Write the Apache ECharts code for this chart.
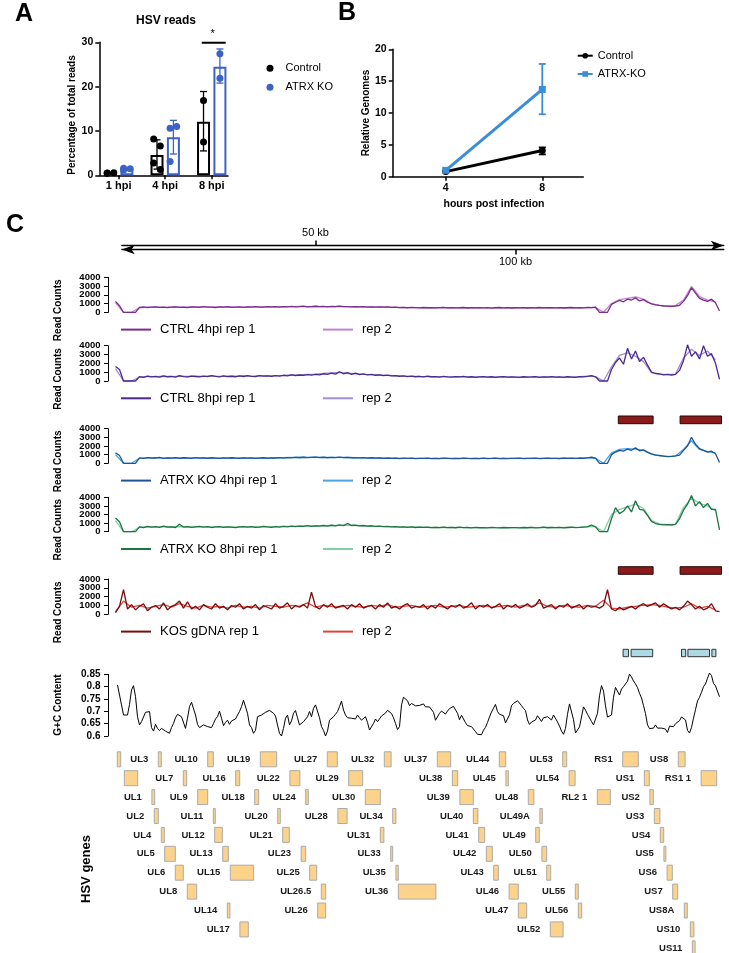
<!DOCTYPE html>
<html><head><meta charset="utf-8">
<script src="https://cdn.jsdelivr.net/npm/echarts@6/dist/echarts.min.js"></script>
<style>html,body{margin:0;padding:0;background:#fff}#c{width:729px;height:953px}</style>
</head><body><div id="c"></div>
<script>
// ---------------- Panel A: HSV reads ----------------
const hpiLabels = ['1 hpi', '4 hpi', '8 hpi'];
const hpiPos = [1, 2, 3];
const ctrlMean = [0.5, 4.6, 12.1];
const ctrlLo = [0.4, 1.4, 5.5];
const ctrlHi = [0.6, 8.0, 18.9];
const atrxMean = [1.4, 8.6, 24.5];
const atrxLo = [1.2, 4.8, 20.8];
const atrxHi = [1.6, 12.4, 28.5];
const ctrlPts = [[0.45, 0.6, 0.5], [8.2, 6.6, 2.8, 1.3], [16.9, 7.5]];
const atrxPts = [[1.2, 1.5, 1.6], [10.6, 11.0, 3.1], [27.4, 21.9]];

// ---------------- Panel B: relative genomes ----------------
const hoursB = [4, 8];
const ctrlGen = [0.8, 4.1];
const ctrlGenLo = [0.7, 3.5];
const ctrlGenHi = [0.9, 4.6];
const atrxGen = [1.0, 13.7];
const atrxGenLo = [0.9, 9.8];
const atrxGenHi = [1.1, 17.7];

// ---------------- Panel C: coverage (rep 1 every 1 kb, rep 2 every 2 kb) ----------------
const ctrl4Rep1 = [1250,750,0,0,0,0,560,610,540,590, 620,560,600,540,580,630,570,600,550,620, 590,560,640,580,600,550,610,590,640,570, 600,620,560,610,590,640,600,580,650,610, 640,600,660,620,680,630,650,700,620,660, 690,640,670,620,680,650,700,640,660,620, 650,610,640,600,630,590,620,580,610,560, 590,540,570,520,560,530,500,550,520,540, 500,530,560,510,540,500,520,550,490,530, 510,540,500,530,480,520,550,500,530,490, 520,500,540,490,530,510,550,500,520,540, 500,530,490,520,550,510,540,500,560,530, 580,0,0,0,900,1150,1350,1200,1500,1400, 1650,1300,1450,1150,950,850,780,720,700,680, 720,800,1250,1900,2800,2200,1600,1400,1250,1500, 1100,150];
const ctrl4Rep2 = [1100,0,0,520,580,600,570,610,590,560, 610,620,580,600,620,590,600,620,610,630, 620,640,660,680,650,670,660,650,670,640, 630,620,610,600,590,570,550,540,530,520, 540,520,530,510,520,530,510,500,530,510, 520,530,510,530,520,510,520,530,520,540, 560,0,1000,1450,1600,1750,1500,1000,800,740, 760,1400,2950,1800,1400,1200];
const ctrl8Rep1 = [1650,1300,0,0,0,0,500,420,560,470, 520,440,580,480,530,450,600,500,470,560, 510,460,550,490,600,520,470,580,500,540, 480,570,510,600,530,490,620,550,590,520, 610,560,650,580,700,620,680,640,720,660, 760,690,820,740,900,780,1050,820,950,760, 880,720,800,690,760,650,700,620,660,580, 600,540,580,500,550,480,520,460,540,480, 500,450,520,470,430,500,460,520,440,480, 420,470,500,440,480,410,460,500,430,470, 450,400,480,430,460,500,420,470,440,490, 430,460,410,480,450,420,500,460,520,620, 480,0,0,0,1300,2100,2600,1900,3700,2500, 3400,2200,2700,1800,1000,850,800,700,760,680, 750,1200,2300,4100,2800,3300,2500,4000,2800,3100, 2000,200];
const ctrl8Rep2 = [1400,0,0,450,520,480,540,500,560,510, 540,520,570,530,560,540,570,560,600,580, 620,640,680,700,740,780,860,920,980,880, 820,760,720,680,640,590,560,530,510,500, 490,500,470,480,470,460,470,450,460,450, 440,450,470,450,460,450,440,460,480,560, 500,0,1600,2900,3200,2800,2200,950,780,720, 780,2600,3600,2900,3400,2400];
const atrx4Rep1 = [1200,900,0,0,0,0,620,560,650,590, 610,680,570,630,600,660,580,640,610,570, 650,600,620,580,640,600,560,620,590,640, 600,570,630,590,620,560,600,640,580,620, 600,650,610,660,620,680,640,700,650,690, 720,660,700,640,690,650,710,660,680,640, 660,620,650,600,640,590,620,570,610,580, 600,550,590,560,600,540,580,560,590,550, 570,540,590,560,530,580,550,600,560,540, 570,550,590,530,560,600,550,580,540,570, 560,590,540,580,560,600,550,570,590,560, 580,550,600,560,590,570,610,580,620,700, 600,0,0,0,1000,1300,1500,1400,1650,1500, 1800,1450,1550,1300,1100,950,900,820,780,800, 850,950,1500,2000,3000,2200,1700,1500,1300,1400, 1100,100];
const atrx4Rep2 = [1000,0,0,580,620,640,600,620,610,630, 620,610,630,600,620,610,620,600,630,610, 640,660,680,700,690,700,690,680,690,670, 650,630,620,610,600,590,580,580,570,580, 570,580,560,580,570,580,570,560,580,570, 580,570,580,570,580,570,590,580,600,650, 580,0,1200,1600,1700,1650,1500,1050,880,800, 830,1600,2600,1600,1350,1200];
const atrx8Rep1 = [1600,1150,0,0,0,0,560,480,620,520, 580,500,640,530,570,490,860,540,600,500, 560,620,520,580,490,550,600,510,570,530, 480,560,600,520,580,500,540,620,560,510, 590,540,620,570,640,590,660,610,700,620, 680,640,720,660,750,680,800,700,960,720, 760,680,720,650,690,610,660,580,620,560, 600,530,570,510,550,490,540,500,520,480, 510,470,530,480,500,460,520,470,490,450, 500,460,480,440,510,470,450,490,460,480, 470,440,490,460,500,450,480,520,460,490, 470,500,450,490,520,470,500,540,560,780, 560,0,0,0,1500,2800,2100,2400,3000,2300, 3600,2600,2500,1900,1200,950,850,800,820,780, 850,1500,2500,3200,4200,3000,3500,2800,3300,2600, 2600,200];
const atrx8Rep2 = [1300,0,0,520,560,540,580,560,600,560, 570,560,540,570,560,540,570,560,580,570, 590,610,630,650,670,680,700,720,740,760, 720,690,650,620,600,570,550,530,520,500, 490,500,490,480,470,480,470,480,470,480, 470,480,490,480,490,480,490,500,510,620, 580,0,2000,2600,2900,3200,2700,1300,900,830, 880,2800,3900,3300,3000,2400];
const kosRep1 = [200,900,2800,600,1100,500,900,1200,400,800, 1000,600,1300,500,900,1100,1500,700,1400,600, 900,500,1100,800,600,1200,700,900,500,1000, 800,1200,600,900,700,1100,500,1000,800,600, 1200,700,900,1300,600,1000,800,1100,700,2500, 900,600,1100,800,1200,700,900,1000,600,1100, 800,1200,700,900,1000,600,1100,800,1300,700, 900,600,1000,1200,700,900,800,1100,600,1000, 700,1200,900,600,1000,800,1100,700,900,1300, 600,1000,800,1100,700,900,1200,600,1000,800, 1100,700,900,1200,800,1000,1700,700,900,1100, 600,1000,800,1200,700,900,1100,600,1000,800, 900,700,1000,2800,600,400,800,500,700,900, 600,1000,1200,900,1100,1300,800,1200,900,600, 800,500,900,1500,1100,600,900,500,700,1200, 400,300];
const kosRep2 = [300,1500,800,1000,700,900,1100,800,1200,900, 700,1000,800,900,700,1000,800,900,700,1000, 900,800,1000,900,1300,800,1000,900,800,1000, 900,800,1000,900,1100,800,900,1000,800,900, 1000,800,900,1000,800,900,1000,800,900,1000, 800,1000,900,1300,900,800,1000,900,800,1000, 900,1600,700,600,800,900,1000,1100,1000,800, 700,800,1200,700,900,500];
const readCountTicks = [0, 1000, 2000, 3000, 4000];

// G+C content, every 0.5 kb starting at 0.5 kb
const gcContent = [
.807,.801,.726,.685,.678,.685,.728,.786,.804,.760,
.678,.645,.658,.665,.696,.692,.699,.634,.620,.647,
.631,.622,.631,.624,.620,.614,.611,.634,.651,.674,
.688,.692,.678,.685,.631,.672,.719,.737,.730,.685,
.647,.634,.637,.645,.650,.638,.643,.634,.651,.669,
.678,.701,.672,.642,.655,.664,.647,.661,.669,.669,
.685,.699,.719,.745,.739,.692,.645,.634,.611,.623,
.678,.685,.685,.692,.696,.703,.704,.697,.692,.681,
.645,.611,.600,.631,.672,.685,.645,.661,.692,.703,
.674,.645,.643,.658,.655,.678,.699,.678,.712,.726,
.732,.674,.638,.623,.600,.620,.664,.665,.678,.688,
.699,.719,.742,.705,.685,.674,.678,.672,.676,.669,
.685,.674,.664,.668,.678,.655,.624,.620,.651,.669,
.658,.669,.681,.688,.693,.704,.700,.691,.674,.651,
.626,.638,.726,.757,.754,.743,.723,.732,.737,
.722,.724,.724,.732,.730,.718,.711,.718,.715,.696,
.664,.669,.692,.701,.697,.689,.701,.711,.715,.720,
.724,.692,.666,.684,.682,.654,.642,.640,.638,.642,
.618,.607,.615,.605,.624,.635,.655,.677,.697,.713,
.728,.699,.688,.680,.682,.653,.647,.686,.723,.732,
.730,.743,.745,.723,.712,.703,.665,.647,.657,.649,
.665,.682,.677,.659,.674,.677,.678,.673,.665,.685,
.685,.657,.640,.620,.607,.631,.688,.730,.727,.666,
.612,.607,.637,.677,.718,.705,.688,.682,.659,.645,
.653,.692,.763,.804,.782,.722,.677,.677,.685,.757,
.797,.796,.766,.790,.800,.808,.822,.851,.839,.823,
.811,.796,.773,.754,.723,.691,.645,.630,.637,.632,
.645,.632,.637,.632,.640,.628,.614,.640,.647,.638,
.650,.650,.662,.677,.684,.665,.623,.612,.635,.672,
.707,.742,.757,.777,.800,.811,.834,.855,.845,.813,
.803,.796,.759];

// Repeat / feature annotations (kb)
const repeatStart = [125.7, 141.15];
const repeatEnd = [134.4, 151.5];
const boxStart = [126.9, 128.9, 141.5, 143.1, 149.1];
const boxEnd = [128.25, 134.3, 142.55, 148.5, 150.1];

// HSV genes (kb) and display row
const geneNames = ['', 'UL3','UL10','UL19','UL27','UL32','UL37','UL44','UL53','RS1','US8',
  '', 'UL7','UL16','UL22','UL29','UL38','UL45','UL54','US1','RS1 1',
  'UL1','UL9','UL18','UL24','UL30','UL39','UL48','RL2 1','US2',
  'UL2','UL11','UL20','UL28','UL34','UL40','UL49A','US3',
  'UL4','UL12','UL21','UL31','UL41','UL49','US4',
  'UL5','UL13','UL23','UL33','UL42','UL50','US5',
  'UL6','UL15','UL25','UL35','UL43','UL51','US6',
  'UL8','UL26.5','UL36','UL46','UL55','US7',
  'UL14','UL26','UL47','UL56','US8A',
  'UL17','UL52','US10',
  'US11'];
const geneStart = [0.45,10.7,23.05,36.2,52.95,67.2,80.45,95.95,111.8,126.8,140.7,
  2.2,16.95,30.05,43.6,58.3,84.2,97.6,113.4,132.2,146.4,
  9.1,20.55,34.8,47.55,62.45,86.1,103.2,120.45,133.6,
  9.7,24.45,40.55,55.6,69.3,89.45,106.1,134.7,
  11.45,24.8,41.8,66.2,90.8,105.05,136.2,
  12.3,26.8,46.4,68.8,92.7,106.6,137.1,
  14.95,28.7,48.55,70.1,94.55,107.8,137.9,
  17.95,51.45,70.7,98.4,114.95,139.3,
  27.95,50.55,100.7,115.7,142.2,
  31.1,108.7,143.7,
  144.2];
const geneEnd = [1.3,11.45,24.45,40.3,55.45,68.9,83.8,97.55,112.8,130.7,142.4,
  5.55,17.8,31.05,46.1,61.8,85.55,98.2,114.9,133.45,150.3,
  9.8,23.05,35.8,48.2,66.2,89.45,104.6,123.7,134.45,
  10.7,24.95,41.2,57.9,70.1,90.6,106.7,136.1,
  12.2,26.7,43.45,67.1,92.3,105.95,137.05,
  14.95,28.2,47.55,69.3,94.2,107.8,137.6,
  16.95,34.55,50.3,70.7,95.7,108.8,139.2,
  20.3,52.55,80.1,100.7,115.7,140.55,
  28.6,52.55,102.8,116.55,142.95,
  33.2,111.9,144.6,
  144.9];
const geneRow = [1,1,1,1,1,1,1,1,1,1,1,
  2,2,2,2,2,2,2,2,2,2,
  3,3,3,3,3,3,3,3,3,
  4,4,4,4,4,4,4,4,
  5,5,5,5,5,5,5,
  6,6,6,6,6,6,6,
  7,7,7,7,7,7,7,
  8,8,8,8,8,8,
  9,9,9,9,9,
  10,10,10,
  11];

// ---------------- layout & style ----------------
const FONT = '"Liberation Sans", Arial, Helvetica, sans-serif';
const X0 = 115.5, KBMAX = 151.5, TRACKW = 606;
const BLUE_A = '#3B62C4', BLUE_B = '#3B8DDA';
const tracks = [
  {id:'T1', label:'CTRL 4hpi rep 1', top:277.3, h:35.0, c1:'#7B2B8C', c2:'#C183D2', r1:ctrl4Rep1, r2:ctrl4Rep2},
  {id:'T2', label:'CTRL 8hpi rep 1', top:345.7, h:35.3, c1:'#4A2B8C', c2:'#A48CD6', r1:ctrl8Rep1, r2:ctrl8Rep2},
  {id:'T3', label:'ATRX KO 4hpi rep 1', top:428.7, h:34.6, c1:'#1C5696', c2:'#4AA3E6', r1:atrx4Rep1, r2:atrx4Rep2},
  {id:'T4', label:'ATRX KO 8hpi rep 1', top:497.3, h:34.4, c1:'#1D7342', c2:'#7FD0A2', r1:atrx8Rep1, r2:atrx8Rep2},
  {id:'T5', label:'KOS gDNA rep 1', top:579.0, h:35.3, c1:'#760D0D', c2:'#E2443C', r1:kosRep1, r2:kosRep2}
];
const txt = (size, bold) => ({fontFamily: FONT, fontSize: size, fontWeight: bold ? 'bold' : 'normal', color: '#000'});
const blackLine = (w) => ({color: '#000', width: w});
const plainNum = v => String(Math.round(v * 1000) / 1000);

const grids = [], xAxes = [], yAxes = [], series = [], legends = [];
function addGrid(g) { grids.push(Object.assign({outerBoundsMode: 'none', containLabel: false}, g)); return grids.length - 1; }
function addX(a) { xAxes.push(a); return xAxes.length - 1; }
function addY(a) { yAxes.push(a); return yAxes.length - 1; }

function errSeries(name, xi, yi, xs, lo, hi, color, dx, cap, lw) {
  return {
    type: 'custom', name, xAxisIndex: xi, yAxisIndex: yi, z: 3, silent: true,
    data: xs.map((x, i) => [x, lo[i], hi[i]]),
    renderItem: (params, api) => {
      const a = api.coord([api.value(0), api.value(1)]);
      const b = api.coord([api.value(0), api.value(2)]);
      const x = a[0] + dx;
      const st = {stroke: color, lineWidth: lw};
      return {type: 'group', children: [
        {type: 'line', shape: {x1: x, y1: a[1], x2: x, y2: b[1]}, style: st},
        {type: 'line', shape: {x1: x - cap, y1: a[1], x2: x + cap, y2: a[1]}, style: st},
        {type: 'line', shape: {x1: x - cap, y1: b[1], x2: x + cap, y2: b[1]}, style: st}
      ]};
    }
  };
}
const stripName = n => n.slice(n.indexOf(':') + 1);
const labelAll = {showMinLabel: true, showMaxLabel: true, hideOverlap: false};

// ---------- Panel A ----------
const gA = addGrid({left: 99.3, top: 42.3, width: 128.7, height: 133});
const xA = addX({gridIndex: gA, type: 'value', min: 0.583, max: 3.35,
  axisLine: {show: true, onZero: false, lineStyle: blackLine(1.5)},
  axisTick: {show: true, customValues: hpiPos, length: 4, lineStyle: blackLine(1.5)},
  axisLabel: Object.assign({customValues: hpiPos, margin: 5, formatter: v => hpiLabels[Math.round(v) - 1]}, txt(11, true)),
  splitLine: {show: false}});
const yA = addY({gridIndex: gA, type: 'value', min: 0, max: 30, interval: 10,
  axisLine: {show: true, onZero: false, lineStyle: blackLine(1.5)},
  axisTick: {show: true, length: 4, lineStyle: blackLine(1.5)},
  axisLabel: Object.assign({margin: 6, formatter: plainNum}, labelAll, txt(10.5, true)),
  splitLine: {show: false}});
const BAR_DX = 8.2;
series.push({type: 'bar', name: 'A:ctrlBar', xAxisIndex: xA, yAxisIndex: yA, barWidth: 13, barGap: '26%', z: 2,
  data: hpiPos.map((x, i) => [x, ctrlMean[i]]), itemStyle: {color: '#fff', borderColor: '#000', borderWidth: 2}});
series.push({type: 'bar', name: 'A:atrxBar', xAxisIndex: xA, yAxisIndex: yA, barWidth: 13, barGap: '26%', z: 2,
  data: hpiPos.map((x, i) => [x, atrxMean[i]]), itemStyle: {color: '#fff', borderColor: BLUE_A, borderWidth: 2}});
series.push(errSeries('A:ctrlErr', xA, yA, hpiPos, ctrlLo, ctrlHi, '#000', -BAR_DX, 3.5, 1.3));
series.push(errSeries('A:atrxErr', xA, yA, hpiPos, atrxLo, atrxHi, BLUE_A, BAR_DX, 3.5, 1.3));
function dots(pts, dx) {
  return pts.flatMap((arr, i) => arr.map((v, j) => ({value: [hpiPos[i], v],
    symbolOffset: [dx + (arr.length > 2 ? (j % 2 ? 3.3 : -3.3) : 0), 0]})));
}
series.push({type: 'scatter', name: 'A:Control', xAxisIndex: xA, yAxisIndex: yA, symbol: 'circle', symbolSize: 7, z: 4,
  itemStyle: {color: '#000', opacity: 1}, data: dots(ctrlPts, -BAR_DX)});
series.push({type: 'scatter', name: 'A:ATRX KO', xAxisIndex: xA, yAxisIndex: yA, symbol: 'circle', symbolSize: 7, z: 4,
  itemStyle: {color: BLUE_A, opacity: 1}, data: dots(atrxPts, BAR_DX)});
legends.push({left: 266.5, top: 62.8, padding: 0, data: ['A:Control'], formatter: stripName, selectedMode: false,
  icon: 'circle', itemWidth: 7, itemHeight: 7, itemStyle: {opacity: 1},
  textStyle: Object.assign({padding: [0, 0, 0, 7]}, txt(11, false))});
legends.push({left: 266.5, top: 81.8, padding: 0, data: ['A:ATRX KO'], formatter: stripName, selectedMode: false,
  icon: 'circle', itemWidth: 7, itemHeight: 7, itemStyle: {opacity: 1},
  textStyle: Object.assign({padding: [0, 0, 0, 7]}, txt(11, false))});

// ---------- Panel B ----------
const gB = addGrid({left: 392.7, top: 49.3, width: 190.6, height: 127.4});
const xB = addX({gridIndex: gB, type: 'value', min: 1.8, max: 9.7,
  axisLine: {show: true, onZero: false, lineStyle: blackLine(1.5)},
  axisTick: {show: true, customValues: hoursB, length: 4, lineStyle: blackLine(1.5)},
  axisLabel: Object.assign({customValues: hoursB, margin: 6}, txt(10.5, true)),
  splitLine: {show: false}});
const yB = addY({gridIndex: gB, type: 'value', min: 0, max: 20, interval: 5,
  axisLine: {show: true, onZero: false, lineStyle: blackLine(1.5)},
  axisTick: {show: true, length: 4, lineStyle: blackLine(1.5)},
  axisLabel: Object.assign({margin: 6, formatter: plainNum}, labelAll, txt(10.5, true)),
  splitLine: {show: false}});
series.push({type: 'line', name: 'B:Control', xAxisIndex: xB, yAxisIndex: yB, z: 4,
  data: hoursB.map((h, i) => [h, ctrlGen[i]]), symbol: 'circle', symbolSize: 7,
  lineStyle: {color: '#000', width: 3}, itemStyle: {color: '#000'}});
series.push({type: 'line', name: 'B:ATRX-KO', xAxisIndex: xB, yAxisIndex: yB, z: 4,
  data: hoursB.map((h, i) => [h, atrxGen[i]]), symbol: 'rect', symbolSize: 7,
  lineStyle: {color: BLUE_B, width: 3}, itemStyle: {color: BLUE_B}});
series.push(errSeries('B:ctrlErr', xB, yB, hoursB, ctrlGenLo, ctrlGenHi, '#000', 0, 3.5, 1.8));
series.push(errSeries('B:atrxErr', xB, yB, hoursB, atrxGenLo, atrxGenHi, BLUE_B, 0, 3.5, 1.8));
legends.push({left: 576.7, top: 50.2, padding: 0, data: ['B:Control'], formatter: stripName, selectedMode: false,
  itemWidth: 15, itemHeight: 7, textStyle: txt(11, false)});
legends.push({left: 576.7, top: 68.5, padding: 0, data: ['B:ATRX-KO'], formatter: stripName, selectedMode: false,
  itemWidth: 15, itemHeight: 7, textStyle: txt(11, false)});

// ---------- Ruler ----------
const gR = addGrid({left: 121.8, top: 245.5, width: 602, height: 4});
const rulerCommon = {gridIndex: gR, type: 'value', min: 1.575, max: 152.075, splitLine: {show: false}};
addX(Object.assign({}, rulerCommon, {position: 'top',
  axisLine: {show: true, onZero: false, symbol: ['none', 'arrow'], symbolSize: [7, 13], symbolOffset: [0, 0], lineStyle: blackLine(1.3)},
  axisTick: {show: true, customValues: [50], length: 5, lineStyle: blackLine(1.5)},
  axisLabel: Object.assign({customValues: [50], margin: 7, formatter: v => v + ' kb'}, txt(11, false))}));
addX(Object.assign({}, rulerCommon, {position: 'bottom',
  axisLine: {show: true, onZero: false, symbol: ['arrow', 'none'], symbolSize: [7, 13], symbolOffset: [0, 0], lineStyle: blackLine(1.3)},
  axisTick: {show: true, customValues: [100], length: 5, lineStyle: blackLine(1.5)},
  axisLabel: Object.assign({customValues: [100], margin: 7, formatter: v => v + ' kb'}, txt(11, false))}));
addY({gridIndex: gR, type: 'value', min: 0, max: 1, show: false});

// ---------- Coverage tracks ----------
const trackAxes = [];
tracks.forEach(t => {
  const g = addGrid({left: X0, top: t.top, width: TRACKW, height: t.h});
  const xi = addX({gridIndex: g, type: 'value', min: 0, max: KBMAX, show: false});
  const yi = addY({gridIndex: g, type: 'value', min: 0, max: 4000, interval: 1000, offset: 7.5,
    axisLine: {show: true, onZero: false, lineStyle: blackLine(1)},
    axisTick: {show: true, length: 4, customValues: readCountTicks, lineStyle: blackLine(1)},
    axisLabel: {show: false}, splitLine: {show: false}});
  trackAxes.push([xi, yi]);
  series.push({type: 'line', name: t.id + ':rep 2', xAxisIndex: xi, yAxisIndex: yi, symbol: 'none', showSymbol: false, clip: false, z: 2,
    data: t.r2.map((v, j) => [j * 2, v]), lineStyle: {color: t.c2, width: 1.3}, itemStyle: {color: t.c2}});
  series.push({type: 'line', name: t.id + ':' + t.label, xAxisIndex: xi, yAxisIndex: yi, symbol: 'none', showSymbol: false, clip: false, z: 3,
    data: t.r1.map((v, j) => [j, v]), lineStyle: {color: t.c1, width: 1.3}, itemStyle: {color: t.c1}});
  const cy = t.top + t.h + 17.8;
  [[t.id + ':' + t.label, 121, t.c1], [t.id + ':rep 2', 323, t.c2]].forEach(([nm, left, col]) => {
    legends.push({left, top: cy - 7, padding: 0, data: [nm], formatter: stripName, selectedMode: false,
      icon: 'rect', itemWidth: 30, itemHeight: 2, itemStyle: {color: col},
      textStyle: Object.assign({padding: [0, 0, 0, 4]}, txt(13, false))});
  });
});

// ---------- G+C content ----------
const gGC = addGrid({left: X0, top: 674.3, width: TRACKW, height: 61.7});
const xGC = addX({gridIndex: gGC, type: 'value', min: 0, max: KBMAX, show: false});
const yGC = addY({gridIndex: gGC, type: 'value', min: 0.6, max: 0.85, interval: 0.05, offset: 7.5,
  axisLine: {show: true, onZero: false, lineStyle: blackLine(1)},
  axisTick: {show: true, length: 4, lineStyle: blackLine(1)},
  axisLabel: Object.assign({margin: 7.5, formatter: plainNum}, labelAll, txt(10, true)),
  splitLine: {show: false}});
series.push({type: 'line', name: 'GC', xAxisIndex: xGC, yAxisIndex: yGC, symbol: 'none', showSymbol: false, clip: false, z: 3,
  data: gcContent.map((v, i) => [0.5 + 0.5 * i, v]), lineStyle: {color: '#000', width: 1}, itemStyle: {color: '#000'}});

// ---------- feature bars ----------
function featureGrid(top, h, starts, ends, fill, stroke) {
  const g = addGrid({left: X0, top, width: TRACKW, height: h});
  const xi = addX({gridIndex: g, type: 'value', min: 0, max: KBMAX, show: false});
  const yi = addY({gridIndex: g, type: 'value', min: 0, max: 1, show: false});
  series.push({type: 'custom', name: 'feat' + g, xAxisIndex: xi, yAxisIndex: yi, silent: true,
    data: starts.map((s, i) => [s, ends[i]]),
    renderItem: (params, api) => {
      const a = api.coord([api.value(0), 1]);
      const b = api.coord([api.value(1), 0]);
      return {type: 'rect', shape: {x: a[0], y: a[1], width: b[0] - a[0], height: b[1] - a[1]},
        style: {fill, stroke, lineWidth: 1}};
    }});
}
featureGrid(416.0, 7.7, repeatStart, repeatEnd, '#8B1A1A', '#2b0505');
featureGrid(566.7, 7.6, repeatStart, repeatEnd, '#8B1A1A', '#2b0505');
featureGrid(649.3, 7.4, boxStart, boxEnd, '#ADD8E6', '#333333');

// ---------- genes ----------
const gG = addGrid({left: X0, top: 749.85, width: TRACKW, height: 207.9});
const xG = addX({gridIndex: gG, type: 'value', min: 0, max: KBMAX, show: false});
const yG = addY({gridIndex: gG, type: 'value', min: 0.5, max: 11.5, inverse: true, show: false});
series.push({type: 'custom', name: 'genes', xAxisIndex: xG, yAxisIndex: yG, silent: true,
  data: geneStart.map((s, i) => [s, geneEnd[i], geneRow[i]]),
  renderItem: (params, api) => {
    const s = api.coord([api.value(0), api.value(2)]);
    const e = api.coord([api.value(1), api.value(2)]);
    const name = geneNames[params.dataIndex];
    const kids = [{type: 'rect', shape: {x: s[0], y: s[1] - 7.5, width: Math.max(e[0] - s[0], 1.5), height: 15},
      style: {fill: '#FDD38B', stroke: '#AAAAAA', lineWidth: 1}}];
    if (name) kids.push({type: 'text', x: s[0] - 10, y: s[1],
      style: {text: name, fill: '#1a1a1a', font: 'bold 9.5px "Liberation Sans", Arial, sans-serif',
        align: 'right', verticalAlign: 'middle', textAlign: 'right', textVerticalAlign: 'middle'}});
    return {type: 'group', children: kids};
  }});

const chart = echarts.init(document.getElementById('c'), null, {renderer: 'canvas', width: 729, height: 953});
chart.setOption({animation: false, backgroundColor: '#fff', tooltip: {show: false},
  grid: grids, xAxis: xAxes, yAxis: yAxes, series, legend: legends});

// ---------- texts / annotations ----------
function label(text, x, y, size, bold, rot, align) {
  return {type: 'text', x, y, rotation: rot || 0, silent: true,
    style: {text, fill: '#000', font: (bold ? 'bold ' : '') + size + 'px ' + FONT,
      align: align || 'center', verticalAlign: 'middle', textAlign: align || 'center', textVerticalAlign: 'middle'}};
}
const R = Math.PI / 2;
const gfx = [
  label('A', 15, 14, 25, true, 0, 'left'),
  label('B', 338, 13, 25, true, 0, 'left'),
  label('C', 6, 225, 25, true, 0, 'left'),
  label('HSV reads', 166, 20.7, 12, true),
  label('Percentage of total reads', 72.7, 115, 10, true, R),
  label('Relative Genomes', 366, 113, 10, true, R),
  label('hours post infection', 494, 204, 10.5, true),
  label('G+C Content', 58, 705, 10, true, R),
  label('HSV genes', 86, 869, 13, true, R)
];
tracks.forEach((t, k) => {
  gfx.push(label('Read Counts', 58, t.top + t.h - 2, 10, true, R));
  readCountTicks.forEach(v => {
    const p = chart.convertToPixel({xAxisIndex: trackAxes[k][0], yAxisIndex: trackAxes[k][1]}, [0, v]);
    gfx.push(label(String(v), 100.5, p[1], 9.5, true, 0, 'right'));
  });
});
const sigL = chart.convertToPixel({xAxisIndex: xA, yAxisIndex: yA}, [hpiPos[2], 29.9]);
const sigS = chart.convertToPixel({xAxisIndex: xA, yAxisIndex: yA}, [hpiPos[2], 31.9]);
gfx.push({type: 'line', silent: true, shape: {x1: sigL[0] - 10, y1: sigL[1], x2: sigL[0] + 14, y2: sigL[1]}, style: {stroke: '#000', lineWidth: 2}});
gfx.push(label('*', sigS[0] + 1, sigS[1], 11, false));
chart.setOption({graphic: gfx});
</script></body></html>
